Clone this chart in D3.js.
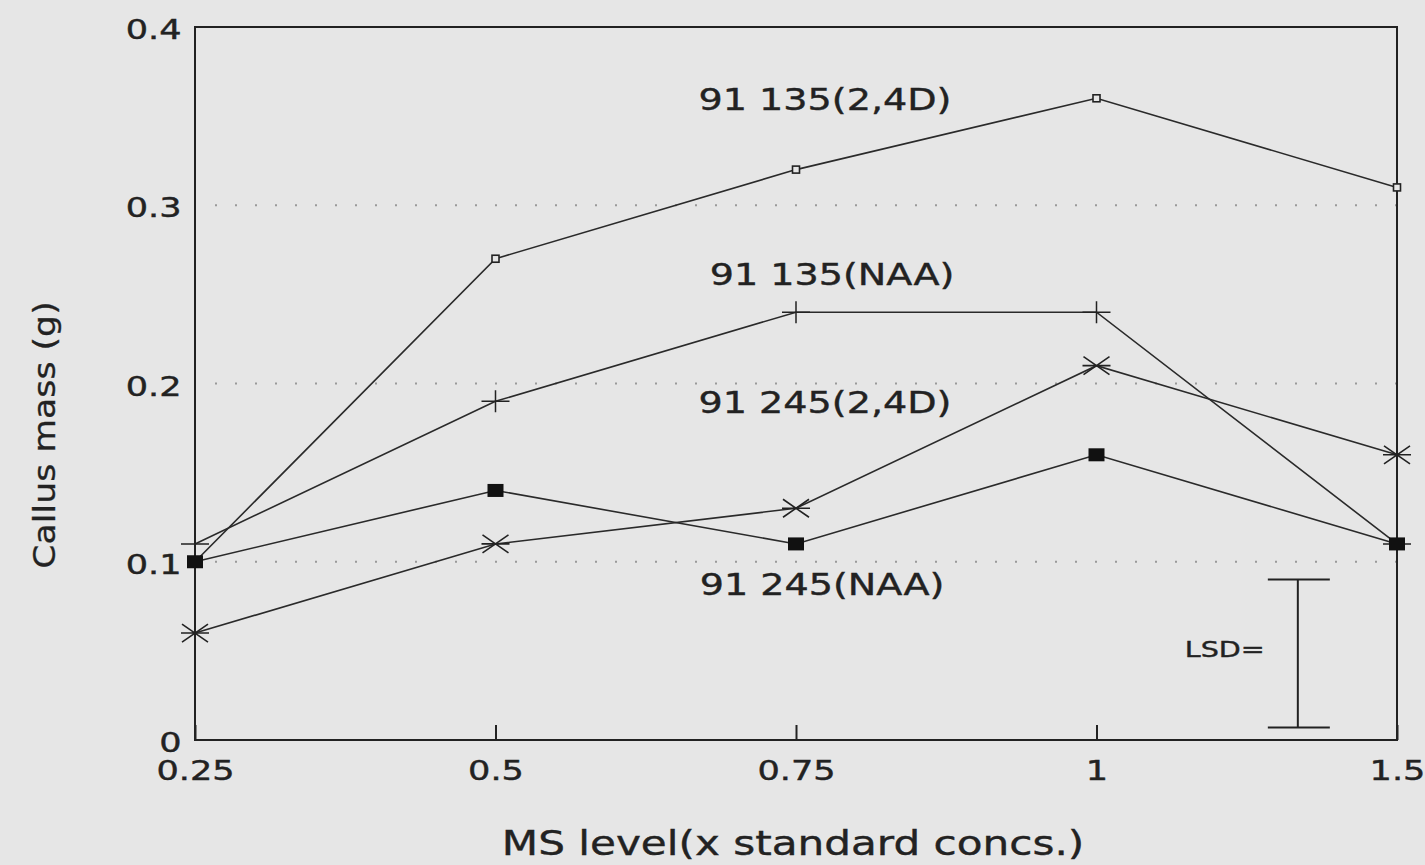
<!DOCTYPE html>
<html>
<head>
<meta charset="utf-8">
<script src="https://cdn.jsdelivr.net/npm/d3@7"></script>
<style>
  body { margin: 0; background: #e6e6e6; }
  svg { display: block; }
</style>
</head>
<body>
<svg id="chart" width="1425" height="865"></svg>
<script>
// MS level categories (x standard concs.)
var levels = ["0.25", "0.5", "0.75", "1", "1.5"];
var yTicks = [0, 0.1, 0.2, 0.3, 0.4];

// callus mass (g) per series
var s135_24D = [0.10, 0.27, 0.32, 0.36, 0.31];
var s135_NAA = [0.11, 0.19, 0.24, 0.24, 0.11];
var s245_24D = [0.06, 0.11, 0.13, 0.21, 0.16];
var s245_NAA = [0.10, 0.14, 0.11, 0.16, 0.11];

var seriesNames = ["91 135(2,4D)", "91 135(NAA)", "91 245(2,4D)", "91 245(NAA)"];
var lsdRange = [0.007, 0.09];

// label spots are in data units (y) next to the 0.75 column
var series = [
  {name: seriesNames[0], values: s135_24D, marker: "openSquare", ly: 0.3534, dx: 29},
  {name: seriesNames[1], values: s135_NAA, marker: "plus", ly: 0.2553, dx: 36},
  {name: seriesNames[2], values: s245_24D, marker: "asterisk", ly: 0.1835, dx: 29},
  {name: seriesNames[3], values: s245_NAA, marker: "filledSquare", ly: 0.0813, dx: 26}
];

var svg = d3.select("#chart");
var margin = {top: 27, right: 28, bottom: 125, left: 195};
var width = 1425 - margin.left - margin.right;
var height = 865 - margin.top - margin.bottom;
var ink = "#222";
var font = "DejaVu Sans, Verdana, sans-serif";

var g = svg.append("g").attr("transform", "translate(" + margin.left + "," + margin.top + ")");

var x = d3.scalePoint().domain(levels).range([0, width]).padding(0);
var y = d3.scaleLinear().domain([0, 0.4]).range([height, 0]);

// the original lettering is a wide, stretched sans: scale glyphs horizontally
function wideText(parent, px, py, str, size, sx, anchor) {
  return parent.append("g")
    .attr("transform", "translate(" + px + "," + py + ")")
    .append("text")
    .attr("transform", "scale(" + sx + ",1)")
    .attr("text-anchor", anchor || "middle")
    .attr("font-family", font)
    .attr("font-size", size)
    .attr("fill", ink)
    .attr("stroke", ink).attr("stroke-width", 0.4)
    .text(str);
}

// dotted grid lines
g.append("g")
  .selectAll("line")
  .data([0.1, 0.2, 0.3])
  .enter().append("line")
  .attr("x1", 20).attr("x2", width)
  .attr("y1", function(d) { return y(d); })
  .attr("y2", function(d) { return y(d); })
  .attr("stroke", "#999")
  .attr("stroke-width", 2)
  .attr("stroke-dasharray", "2,18");

// frame
g.append("rect")
  .attr("width", width).attr("height", height)
  .attr("fill", "none").attr("stroke", ink).attr("stroke-width", 2);

// axes
var yAxis = g.append("g")
  .call(d3.axisLeft(y).tickValues(yTicks).tickSize(0).tickPadding(10)
    .tickFormat(function(d) { return d === 0 ? "0" : d3.format(".1f")(d); }));
yAxis.select(".domain").remove();
yAxis.selectAll("text")
  .attr("font-family", font)
  .attr("font-size", 26).attr("fill", ink)
  .attr("stroke", ink).attr("stroke-width", 0.4)
  .attr("dy", "0.45em")
  .attr("transform", "scale(1.35,1)");

var xAxis = g.append("g")
  .attr("transform", "translate(0," + height + ")")
  .call(d3.axisBottom(x).tickSize(-15).tickPadding(22));
xAxis.select(".domain").remove();
xAxis.selectAll("line").attr("stroke", ink).attr("stroke-width", 2);
xAxis.selectAll("text")
  .attr("font-family", font)
  .attr("font-size", 26).attr("fill", ink)
  .attr("stroke", ink).attr("stroke-width", 0.4)
  .attr("dy", "0.71em")
  .attr("transform", "scale(1.35,1)");

// axis titles
wideText(svg, 793, 855, "MS level(x standard concs.)", 34, 1.24);

svg.append("g")
  .attr("transform", "translate(55,435) rotate(-90)")
  .append("text")
  .attr("transform", "scale(1.12,1)")
  .attr("text-anchor", "middle")
  .attr("font-family", font)
  .attr("font-size", 31).attr("fill", ink)
  .attr("stroke", ink).attr("stroke-width", 0.3)
  .text("Callus mass (g)");

// lines
var line = d3.line()
  .x(function(d, i) { return x(levels[i]); })
  .y(function(d) { return y(d); });

g.append("g")
  .selectAll("path")
  .data(series)
  .enter().append("path")
  .attr("d", function(d) { return line(d.values); })
  .attr("fill", "none").attr("stroke", "#2a2a2a").attr("stroke-width", 1.6);

// markers
function drawMarker(sel, type) {
  if (type === "openSquare") {
    sel.append("rect").attr("x", -3.5).attr("y", -3.5).attr("width", 7).attr("height", 7)
      .attr("fill", "#e6e6e6").attr("stroke", ink).attr("stroke-width", 1.6);
  } else if (type === "filledSquare") {
    sel.append("rect").attr("x", -8).attr("y", -6.5).attr("width", 16).attr("height", 13)
      .attr("fill", "#111");
  } else if (type === "plus") {
    sel.append("path").attr("d", "M-14,0H14M0,-11V11")
      .attr("stroke", ink).attr("stroke-width", 1.5);
  } else if (type === "asterisk") {
    sel.append("path").attr("d", "M-13,-9L13,9M-13,9L13,-9M-14,0H14")
      .attr("stroke", ink).attr("stroke-width", 1.6);
  }
}

series.forEach(function(s) {
  g.append("g")
    .selectAll("g")
    .data(s.values)
    .enter().append("g")
    .attr("transform", function(d, i) { return "translate(" + x(levels[i]) + "," + y(d) + ")"; })
    .each(function() { drawMarker(d3.select(this), s.marker); });

  wideText(g, x("0.75") + s.dx, y(s.ly), s.name, 30, 1.27);
});

// LSD bar
var lsdX = x("1") + (x("1.5") - x("1")) * 0.67;
var lsd = g.append("g").attr("stroke", ink).attr("stroke-width", 2);
lsd.append("line").attr("x1", lsdX).attr("x2", lsdX).attr("y1", y(lsdRange[1])).attr("y2", y(lsdRange[0]));
lsd.append("line").attr("x1", lsdX - 30).attr("x2", lsdX + 32).attr("y1", y(lsdRange[1])).attr("y2", y(lsdRange[1]));
lsd.append("line").attr("x1", lsdX - 30).attr("x2", lsdX + 32).attr("y1", y(lsdRange[0])).attr("y2", y(lsdRange[0]));

wideText(g, lsdX - 33, y((lsdRange[0] + lsdRange[1]) / 2) + 3, "LSD=", 22, 1.3, "end");
</script>
</body>
</html>
